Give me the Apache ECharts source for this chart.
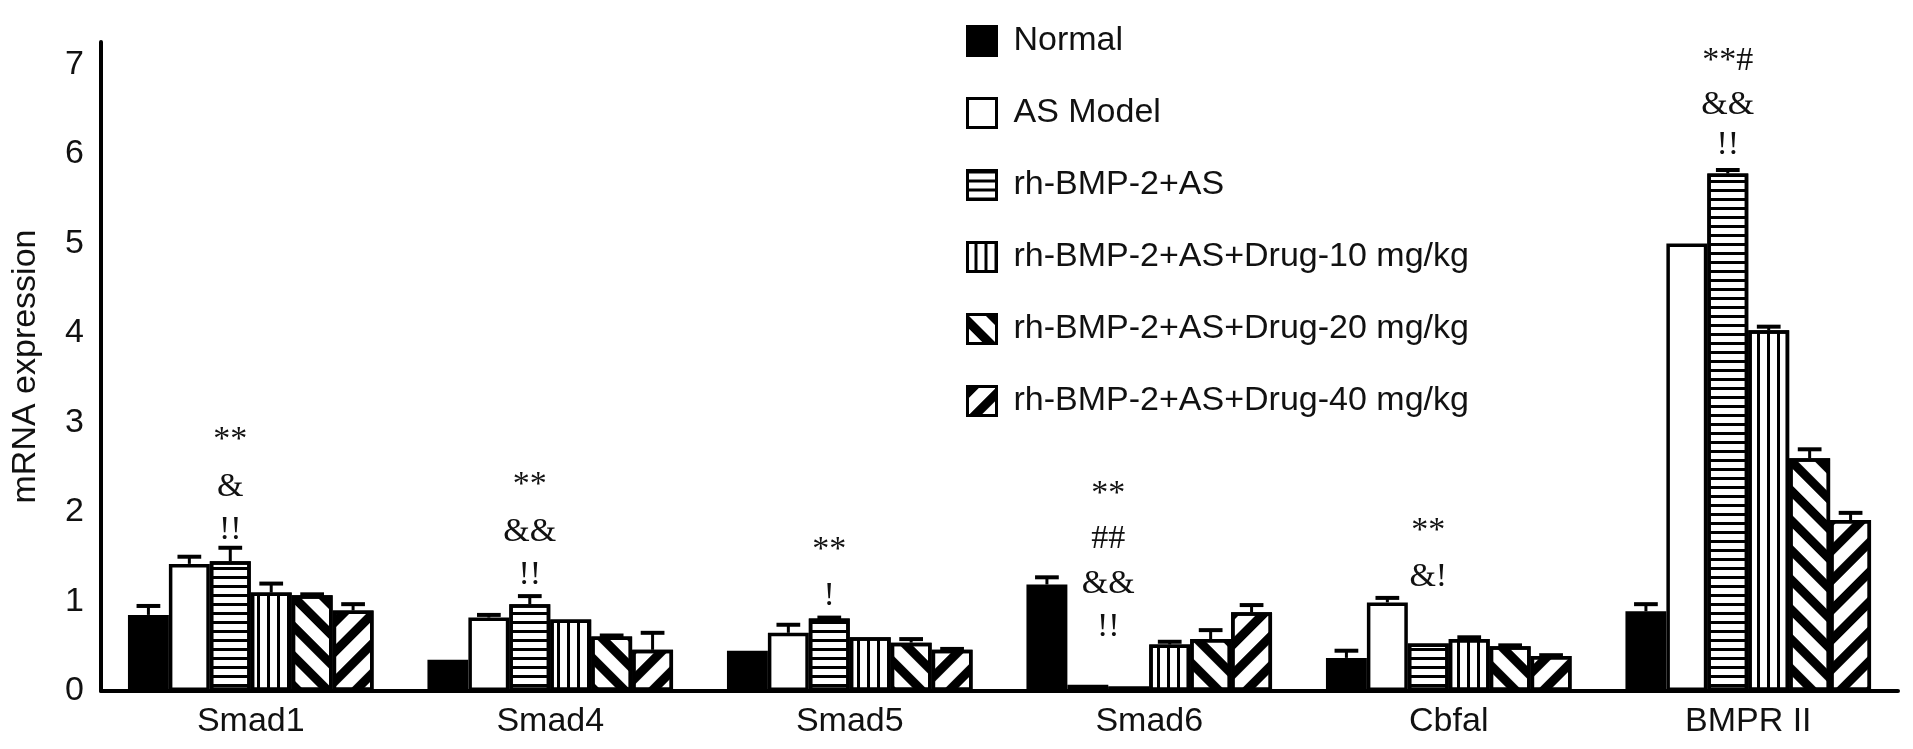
<!DOCTYPE html>
<html>
<head>
<meta charset="utf-8">
<title>mRNA expression</title>
<script src="https://cdn.jsdelivr.net/npm/echarts@6/dist/echarts.min.js"></script>
<style>
    html, body { margin: 0; padding: 0; background: #fff; }
    #main { width: 1913px; height: 749px; }
</style>
</head>
<body>
<div id="main"></div>
<script>
var categories = ['Smad1', 'Smad4', 'Smad5', 'Smad6', 'Cbfal', 'BMPR II'];
var groupNames = ['Normal', 'AS Model', 'rh-BMP-2+AS', 'rh-BMP-2+AS+Drug-10 mg/kg',
    'rh-BMP-2+AS+Drug-20 mg/kg', 'rh-BMP-2+AS+Drug-40 mg/kg'];

// mean values per group
var normalMean = [0.85, 0.35, 0.45, 1.19, 0.37, 0.89];
var modelMean  = [1.42, 0.82, 0.65, 0.07, 0.99, 5.00];
var rhMean     = [1.45, 0.97, 0.81, 0.05, 0.53, 5.78];
var drug10Mean = [1.10, 0.80, 0.60, 0.52, 0.58, 4.03];
var drug20Mean = [1.07, 0.61, 0.54, 0.58, 0.50, 2.60];
var drug40Mean = [0.90, 0.46, 0.46, 0.88, 0.39, 1.91];

// error bar sizes (upper only)
var normalSd = [0.10, 0.00, 0.00, 0.08, 0.08, 0.08];
var modelSd  = [0.08, 0.03, 0.09, 0.00, 0.05, 0.00];
var rhSd     = [0.15, 0.09, 0.01, 0.00, 0.00, 0.04];
var drug10Sd = [0.10, 0.00, 0.00, 0.03, 0.02, 0.04];
var drug20Sd = [0.01, 0.01, 0.04, 0.10, 0.01, 0.10];
var drug40Sd = [0.07, 0.19, 0.01, 0.08, 0.01, 0.08];

// significance marks: category, bar slot it sits over, level, text
var sigCategory = [0, 0, 0, 1, 1, 1, 2, 2, 3, 3, 3, 3, 4, 4, 5, 5, 5];
var sigSlot     = [2, 2, 2, 2, 2, 2, 2, 2, 1.5, 1.5, 1.5, 1.5, 2, 2, 2, 2, 2];
var sigLevel    = [2.80, 2.28, 1.80, 2.30, 1.78, 1.30, 1.57, 1.06, 2.20, 1.70, 1.19, 0.71, 1.79, 1.27, 7.04, 6.54, 6.10];
var sigText     = ['**', '&', '!!', '**', '&&', '!!', '**', '!', '**', '##', '&&', '!!', '**', '&!', '**#', '&&', '!!'];

var yMin = 0;
var yMax = 7.25;
var yInterval = 1;

var means = [normalMean, modelMean, rhMean, drug10Mean, drug20Mean, drug40Mean];
var sds = [normalSd, modelSd, rhSd, drug10Sd, drug20Sd, drug40Sd];

var CATEGORY_GAP = 0.18;
var TEXT_COLOR = '#111';

var fills = ['#000', '#fff', '#fff', '#fff', '#fff', '#fff'];
var decals = [
    null,
    null,
    { symbol: 'rect', color: '#000', dashArrayX: [1, 0], dashArrayY: [3, 6], rotation: 0 },
    { symbol: 'rect', color: '#000', dashArrayX: [1, 0], dashArrayY: [3, 7], rotation: Math.PI / 2 },
    { symbol: 'rect', color: '#000', dashArrayX: [1, 0], dashArrayY: [9, 12], rotation: Math.PI / 4 },
    { symbol: 'rect', color: '#000', dashArrayX: [1, 0], dashArrayY: [9, 12], rotation: -Math.PI / 4 }
];

function barWidthOf(api) {
    var band = api.size([1, 0])[0];
    return band * (1 - CATEGORY_GAP) / groupNames.length;
}

function renderErrorBar(params, api) {
    var cat = api.value(0);
    var slot = api.value(1);
    var low = api.value(2);
    var high = api.value(3);
    if (high <= low)
        return null;
    var w = barWidthOf(api);
    var x = api.coord([cat, 0])[0] + (slot - (groupNames.length - 1) / 2) * w;
    var y1 = api.coord([cat, low])[1];
    var y2 = api.coord([cat, high])[1];
    var half = w * 0.29;
    return {
        type: 'group',
        children: [
            { type: 'line', shape: { x1: x, y1: y1, x2: x, y2: y2 }, style: { stroke: '#000', lineWidth: 3 } },
            { type: 'line', shape: { x1: x - half, y1: y2, x2: x + half, y2: y2 }, style: { stroke: '#000', lineWidth: 4 } }
        ]
    };
}

function renderSig(params, api) {
    var cat = api.value(0);
    var slot = api.value(1);
    var w = barWidthOf(api);
    var pt = api.coord([cat, api.value(2)]);
    return {
        type: 'text',
        x: pt[0] + (slot - (groupNames.length - 1) / 2) * w,
        y: pt[1],
        style: {
            text: sigText[params.dataIndex],
            fill: TEXT_COLOR,
            font: '34px "Liberation Serif", serif',
            align: 'center',
            verticalAlign: 'middle'
        }
    };
}

var barSeries = groupNames.map(function (name, j) {
    return {
        name: name,
        type: 'bar',
        barGap: '0%',
        barCategoryGap: (CATEGORY_GAP * 100) + '%',
        data: means[j],
        itemStyle: {
            color: fills[j],
            borderColor: '#000',
            borderWidth: 3.5,
            decal: decals[j] || undefined
        },
        z: 2
    };
});

var errorData = [];
means.forEach(function (arr, j) {
    arr.forEach(function (v, i) {
        errorData.push([i, j, v, v + sds[j][i]]);
    });
});

var sigData = sigCategory.map(function (c, k) {
    return [c, sigSlot[k], sigLevel[k]];
});

var myChart = echarts.init(document.getElementById('main'), null, { renderer: 'canvas' });

var option = {
    animation: false,
    backgroundColor: '#fff',
    textStyle: { fontFamily: '"Liberation Sans", Arial, sans-serif' },
    grid: {
        left: 101,
        right: 15,
        top: 42,
        bottom: 58,
        outerBoundsMode: 'none'
    },
    legend: {
        orient: 'vertical',
        left: 966,
        top: 24,
        padding: 0,
        itemWidth: 29,
        itemHeight: 29,
        itemGap: 38,
        icon: 'rect',
        selectedMode: false,
        data: groupNames,
        itemStyle: { borderColor: '#000', borderWidth: 3 },
        textStyle: {
            fontSize: 34,
            color: TEXT_COLOR,
            fontFamily: '"Liberation Sans", Arial, sans-serif',
            padding: [0, 0, 0, 12]
        }
    },
    xAxis: {
        type: 'category',
        data: categories,
        axisLine: { show: true, lineStyle: { color: '#000', width: 4 } },
        axisTick: { show: false },
        axisLabel: {
            fontSize: 34,
            color: TEXT_COLOR,
            margin: 14
        },
        splitLine: { show: false }
    },
    yAxis: {
        type: 'value',
        min: yMin,
        max: yMax,
        interval: yInterval,
        name: 'mRNA expression',
        nameLocation: 'middle',
        nameGap: 58,
        nameTextStyle: { fontSize: 34, color: TEXT_COLOR },
        axisLine: { show: true, lineStyle: { color: '#000', width: 4 } },
        axisTick: { show: false },
        axisLabel: {
            fontSize: 34,
            color: TEXT_COLOR,
            margin: 17,
            showMaxLabel: false
        },
        splitLine: { show: false }
    },
    series: barSeries.concat([
        {
            name: 'error',
            type: 'custom',
            renderItem: renderErrorBar,
            data: errorData,
            z: 5,
            silent: true
        },
        {
            name: 'sig',
            type: 'custom',
            renderItem: renderSig,
            data: sigData,
            z: 6,
            silent: true
        }
    ])
};

myChart.setOption(option);

window.addEventListener('resize', function () {
    myChart.resize();
});
</script>
</body>
</html>
